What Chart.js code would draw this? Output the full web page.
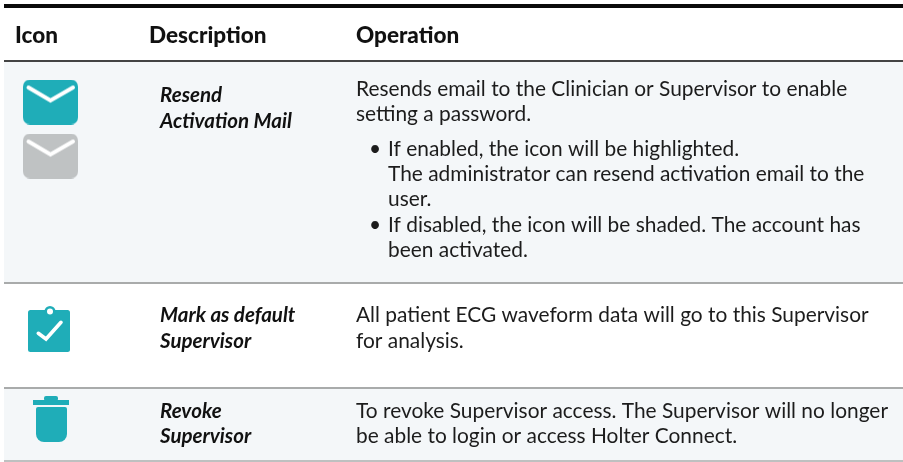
<!DOCTYPE html>
<html>
<head>
<meta charset="utf-8">
<title>Icon table</title>
<script src="https://cdn.jsdelivr.net/npm/chart.js@4"></script>
<style>
html, body { margin: 0; padding: 0; background: #fff; }
canvas { display: block; }
</style>
</head>
<body>
<canvas id="tableChart" width="903" height="462"></canvas>
<script>
const headers = ["Icon", "Description", "Operation"];
const descriptions = [
    ["Resend", "Activation Mail"],
    ["Mark as default", "Supervisor"],
    ["Revoke", "Supervisor"]
];
const operations = [
    ["Resends email to the Clinician or Supervisor to enable", "setting a password."],
    ["All patient ECG waveform data will go to this Supervisor", "for analysis."],
    ["To revoke Supervisor access. The Supervisor will no longer", "be able to login or access Holter Connect."]
];
const bullets = [
    ["If enabled, the icon will be highlighted.", "The administrator can resend activation email to the", "user."],
    ["If disabled, the icon will be shaded. The account has", "been activated."]
];

const TEAL = "#1fadb8";
const GREY = "#bfc2c3";
const BODY_FONT = "Lato";

function iconCanvas(w, h, paint) {
    const c = document.createElement("canvas");
    c.width = w;
    c.height = h;
    paint(c.getContext("2d"), w, h);
    return c;
}

function envelope(color) {
    return iconCanvas(55, 45, (ctx, w, h) => {
        ctx.fillStyle = color;
        ctx.beginPath();
        ctx.roundRect(0, 0, w, h, 7);
        ctx.fill();
        ctx.strokeStyle = "#fff";
        ctx.lineWidth = 4;
        ctx.lineCap = "round";
        ctx.lineJoin = "miter";
        ctx.beginPath();
        ctx.moveTo(5.5, 8);
        ctx.lineTo(27.5, 21);
        ctx.lineTo(50, 8);
        ctx.stroke();
    });
}

const clipboard = iconCanvas(42, 46, (ctx) => {
    ctx.fillStyle = TEAL;
    ctx.beginPath();
    ctx.roundRect(0, 4, 42, 42, 2.5);
    ctx.fill();
    ctx.beginPath();
    ctx.arc(22, 5.5, 5.5, 0, Math.PI * 2);
    ctx.fill();
    ctx.fillStyle = "#fff";
    ctx.beginPath();
    ctx.arc(22, 5.5, 3, 0, Math.PI * 2);
    ctx.fill();
    ctx.strokeStyle = "#fff";
    ctx.lineWidth = 3.6;
    ctx.lineCap = "round";
    ctx.lineJoin = "miter";
    ctx.beginPath();
    ctx.moveTo(10.3, 27.3);
    ctx.lineTo(18, 33);
    ctx.lineTo(33, 16.3);
    ctx.stroke();
});

const trash = iconCanvas(36, 46, (ctx) => {
    ctx.fillStyle = TEAL;
    ctx.beginPath();
    ctx.roundRect(11, 0, 14, 5, 2);
    ctx.fill();
    ctx.fillRect(0, 4, 36, 5);
    ctx.beginPath();
    ctx.roundRect(3, 11, 31, 35, [2, 2, 8, 8]);
    ctx.fill();
});

function rule(y, color, width) {
    return {
        data: [{ x: 4, y: y }, { x: 903, y: y }],
        showLine: true,
        borderColor: color,
        borderWidth: width,
        pointRadius: 0,
        fill: false
    };
}

function band(top, bottom) {
    return {
        data: [{ x: 4, y: top }, { x: 903, y: top }],
        showLine: true,
        borderWidth: 0,
        pointRadius: 0,
        backgroundColor: "#f4f7f9",
        fill: { value: bottom }
    };
}

function icon(x, y, image) {
    return { data: [{ x: x, y: y }], pointStyle: image, pointRadius: 20, showLine: false };
}

const tableText = {
    id: "tableText",
    afterDatasetsDraw(chart) {
        const ctx = chart.ctx;
        const sx = chart.scales.x;
        const sy = chart.scales.y;
        const put = (text, x, y) => ctx.fillText(text, sx.getPixelForValue(x), sy.getPixelForValue(y));

        ctx.save();
        ctx.textAlign = "left";
        ctx.textBaseline = "alphabetic";

        ctx.fillStyle = "#111";
        ctx.font = `900 22.5px ${BODY_FONT}`;
        put(headers[0], 15, 43);
        put(headers[1], 149, 43);
        put(headers[2], 356, 43);

        const rowY = [[102, 128], [322, 348], [418, 443]];
        ctx.font = `italic 700 20.5px ${BODY_FONT}`;
        descriptions.forEach((lines, r) => {
            lines.forEach((line, i) => put(line, 160, rowY[r][i]));
        });

        const opY = [[96, 121], [322, 348], [418, 443]];
        ctx.fillStyle = "#1c1c1c";
        ctx.font = `400 20.9px ${BODY_FONT}`;
        operations.forEach((lines, r) => {
            lines.forEach((line, i) => put(line, 356, opY[r][i]));
        });

        const bulletY = [[156, 181, 206], [232, 257]];
        bullets.forEach((lines, b) => {
            put("\u2022", 369, bulletY[b][0]);
            lines.forEach((line, i) => put(line, 388, bulletY[b][i]));
        });
        ctx.restore();
    }
};

new Chart(document.getElementById("tableChart"), {
    type: "scatter",
    data: {
        datasets: [
            icon(50.5, 102, envelope(TEAL)),
            icon(50.5, 156, envelope(GREY)),
            icon(49, 329, clipboard),
            icon(51, 419, trash),
            rule(6, "#0a0a0a", 4),
            rule(61, "#444444", 2),
            rule(283, "#a9abab", 2),
            rule(388, "#a9abab", 2),
            rule(461, "#a9abab", 1.5),
            band(62, 282),
            band(389, 460)
        ]
    },
    options: {
        responsive: false,
        animation: false,
        layout: { padding: 0, autoPadding: false },
        plugins: { legend: { display: false }, tooltip: { enabled: false } },
        scales: {
            x: { type: "linear", display: false, min: 0, max: 903 },
            y: { type: "linear", display: false, min: 0, max: 462, reverse: true }
        }
    },
    plugins: [tableText]
});
</script>
</body>
</html>
